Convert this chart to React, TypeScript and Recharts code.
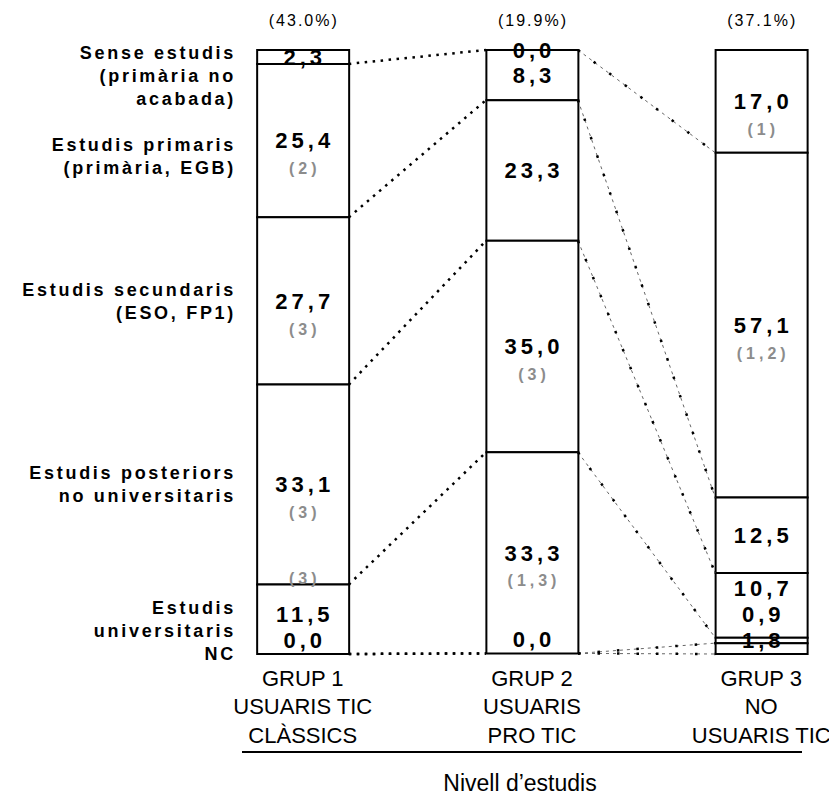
import { ComposedChart, Bar, Line, Scatter, XAxis, YAxis } from 'recharts';

// Groups (x positions on a numeric axis so connectors can reach the bar edges)
const GROUP_X = [1, 2, 3];
const GROUP_NAMES = ['GRUP 1', 'GRUP 2', 'GRUP 3'];
const GROUP_SUBTITLES = [
  ['USUARIS TIC', 'CLÀSSICS'],
  ['USUARIS', 'PRO TIC'],
  ['NO', 'USUARIS TIC'],
];
const GROUP_SHARES = ['(43.0%)', '(19.9%)', '(37.1%)'];

// Study levels, top of the bar first
const LEVEL_KEYS = ['sense', 'primaris', 'secundaris', 'posteriors', 'universitaris', 'nc'];
const LEVEL_LABELS = [
  ['Sense estudis', '(primària no', 'acabada)'],
  ['Estudis primaris', '(primària, EGB)'],
  ['Estudis secundaris', '(ESO, FP1)'],
  ['Estudis posteriors', 'no universitaris'],
  ['Estudis', 'universitaris'],
  ['NC'],
];

const GRUP1_VALUES = [2.3, 25.4, 27.7, 33.1, 11.5, 0.0];
const GRUP2_VALUES = [0.0, 8.3, 23.3, 35.0, 33.3, 0.0];
const GRUP3_VALUES = [17.0, 57.1, 12.5, 10.7, 0.9, 1.8];

const GRUP1_NOTES = ['', '(2)', '(3)', '(3)', '(3)', ''];
const GRUP2_NOTES = ['', '', '', '(3)', '(1,3)', ''];
const GRUP3_NOTES = ['(1)', '(1,2)', '', '', '', ''];

const AXIS_TITLE = 'Nivell d’estudis';

const GROUP_VALUES = [GRUP1_VALUES, GRUP2_VALUES, GRUP3_VALUES];
const GROUP_NOTES = [GRUP1_NOTES, GRUP2_NOTES, GRUP3_NOTES];

// layout
const W = 829;
const H = 791;
const MARGIN = { top: 0, right: 7, bottom: 35, left: 0 };
const TOP_AXIS_H = 42;
const Y_AXIS_W = 226;
const X_AXIS_H = 110;
const X_DOMAIN: [number, number] = [0.7, 3.3];
const PLOT_TOP = MARGIN.top + TOP_AXIS_H;
const PLOT_W = W - Y_AXIS_W - MARGIN.left - MARGIN.right;
const PLOT_H = H - PLOT_TOP - X_AXIS_H - MARGIN.bottom;
const PX_PER_UNIT = PLOT_W / (X_DOMAIN[1] - X_DOMAIN[0]);
const PX_PER_PCT = PLOT_H / 100;
const BAR_SIZE = 92;
const BAR_HALF = BAR_SIZE / 2 / PX_PER_UNIT;

const FONT = '"Liberation Sans", Arial, Helvetica, sans-serif';
const LABEL_GAP = 26 / PX_PER_PCT;
const LABEL_INSET = 14 / PX_PER_PCT;
const NOTE_GAP = 28 / PX_PER_PCT;
const NOTE_GAP_ABOVE = 36 / PX_PER_PCT;
const LEVEL_LINE_H = 23;
const LEVEL_LINE_PCT = LEVEL_LINE_H / PX_PER_PCT;

const cumulative = (vals: number[]) =>
  vals.reduce((acc: number[], v) => [...acc, acc[acc.length - 1] + v], [0]);

const CUMS = GROUP_VALUES.map(cumulative);

const rows = GROUP_X.map((x, g) => {
  const r: Record<string, number> = { x };
  LEVEL_KEYS.forEach((k, i) => (r[k] = GROUP_VALUES[g][i]));
  return r;
});

// value labels pushed up when segments are too thin
const labelPoints: any[] = [];
GROUP_X.forEach((gx, g) => {
  const cum = CUMS[g];
  const bottom = cum[cum.length - 1];
  const ys: number[] = [];
  let prev = Infinity;
  for (let i = LEVEL_KEYS.length - 1; i >= 0; i--) {
    const center = (cum[i] + cum[i + 1]) / 2;
    const y = Math.max(0, Math.min(center, prev - LABEL_GAP, bottom - LABEL_INSET));
    ys[i] = y;
    prev = y;
  }
  ys.forEach((y, i) => {
    labelPoints.push({ x: gx, y, text: GROUP_VALUES[g][i].toFixed(1).replace('.', ','), kind: 'value' });
    const note = GROUP_NOTES[g][i];
    if (note) {
      let ny = y + NOTE_GAP;
      if (i < ys.length - 1 && ny > ys[i + 1] - LABEL_GAP * 0.8) ny = y - NOTE_GAP_ABOVE;
      labelPoints.push({ x: gx, y: ny, text: note, kind: 'note' });
    }
  });
});

// dotted connectors between matching boundaries of neighbouring bars
const connectors: any[] = [];
for (let g = 0; g < GROUP_X.length - 1; g++) {
  for (let k = 1; k <= LEVEL_KEYS.length; k++) {
    connectors.push({
      id: `${g}-${k}`,
      gap: g,
      points: [
        { x: GROUP_X[g] + BAR_HALF, y: CUMS[g][k] },
        { x: GROUP_X[g + 1] - BAR_HALF, y: CUMS[g + 1][k] },
      ],
    });
  }
}

// left labels: first-line position of each block, next to the first bar's segments
const LEVEL_TICKS: number[] = [];
{
  let prevLast = -Infinity;
  LEVEL_LABELS.forEach((lines, i) => {
    const span = (lines.length - 1) * LEVEL_LINE_PCT;
    const center = (CUMS[0][i] + CUMS[0][i + 1]) / 2;
    let first = Math.max(center - span / 2, 0.5, prevLast + 2 * LEVEL_LINE_PCT);
    if (first + span > 100) first = 100 - span;
    LEVEL_TICKS.push(first);
    prevLast = first + span;
  });
}

const renderLabel = (props: any) => {
  const { cx, cy, payload } = props;
  const note = payload.kind === 'note';
  return (
    <text
      x={cx + 2}
      y={cy}
      dy="0.35em"
      textAnchor="middle"
      fontFamily={FONT}
      fontWeight="bold"
      fontSize={note ? 16 : 22}
      letterSpacing={4}
      fill={note ? '#8c8c8c' : '#000'}
    >
      {payload.text}
    </text>
  );
};

const LevelTick = (props: any) => {
  const { x, y, index } = props;
  const lines = LEVEL_LABELS[index] || [];
  return (
    <g>
      {lines.map((t, i) => (
        <text
          key={i}
          x={x + 10}
          y={y + i * LEVEL_LINE_H}
          dy="0.35em"
          textAnchor="end"
          fontFamily={FONT}
          fontWeight="bold"
          fontSize={18}
          letterSpacing={2.7}
          fill="#000"
        >
          {t}
        </text>
      ))}
    </g>
  );
};

const GroupTick = (props: any) => {
  const { x, y, index } = props;
  const lines = [GROUP_NAMES[index], ...(GROUP_SUBTITLES[index] || [])];
  return (
    <g>
      {lines.map((t, i) => (
        <text
          key={i}
          x={x}
          y={y + 16 + i * 28.5}
          dy="0.35em"
          textAnchor="middle"
          fontFamily={FONT}
          fontSize={22}
          fill="#000"
        >
          {t}
        </text>
      ))}
    </g>
  );
};

const ShareTick = (props: any) => {
  const { x, y, index } = props;
  return (
    <text x={x + 1} y={y - 22} dy="0.35em" textAnchor="middle" fontFamily={FONT} fontSize={16} letterSpacing={2} fill="#000">
      {GROUP_SHARES[index]}
    </text>
  );
};

const AxisTitle = (props: any) => {
  const vb = props.viewBox || { x: Y_AXIS_W, y: PLOT_TOP + PLOT_H, width: PLOT_W };
  return (
    <g>
      <line x1={vb.x + 8} x2={vb.x + vb.width - 28} y1={vb.y + 98} y2={vb.y + 98} stroke="#000" strokeWidth={2} />
      <text x={vb.x + vb.width / 2 - 12} y={vb.y + 129} dy="0.35em" textAnchor="middle" fontFamily={FONT} fontSize={23} fill="#000">
        {AXIS_TITLE}
      </text>
    </g>
  );
};

const lineProps = {
  dataKey: 'y',
  xAxisId: 'marks',
  dot: false,
  activeDot: false,
  isAnimationActive: false,
  legendType: 'none' as const,
};

export default function App() {
  return (
    <ComposedChart width={W} height={H} data={rows} margin={MARGIN}>
      <XAxis
        xAxisId="top"
        orientation="top"
        dataKey="x"
        type="number"
        domain={X_DOMAIN}
        ticks={GROUP_X}
        height={TOP_AXIS_H}
        axisLine={false}
        tickLine={false}
        tick={<ShareTick />}
        interval={0}
      />
      <XAxis
        dataKey="x"
        type="number"
        domain={X_DOMAIN}
        ticks={GROUP_X}
        height={X_AXIS_H}
        axisLine={false}
        tickLine={false}
        tick={<GroupTick />}
        interval={0}
        label={{ content: <AxisTitle /> }}
      />
      <XAxis xAxisId="marks" dataKey="x" type="number" domain={X_DOMAIN} hide />
      <YAxis
        type="number"
        domain={[0, 100]}
        reversed
        width={Y_AXIS_W}
        ticks={LEVEL_TICKS}
        interval={0}
        axisLine={false}
        tickLine={false}
        tick={<LevelTick />}
      />
      {LEVEL_KEYS.map((k) => (
        <Bar
          key={k}
          dataKey={k}
          stackId="a"
          barSize={BAR_SIZE}
          fill="#fff"
          stroke="#000"
          strokeWidth={2}
          isAnimationActive={false}
          legendType="none"
        />
      ))}
      {connectors.map((c) =>
        c.gap === 0 ? (
          <Line key={c.id} data={c.points} {...lineProps} stroke="#000" strokeWidth={2.5} strokeDasharray="2.5 5.5" />
        ) : (
          <Line key={c.id} data={c.points} {...lineProps} stroke="#555" strokeWidth={0.9} strokeDasharray="3 4" />
        )
      )}
      {connectors
        .filter((c) => c.gap > 0)
        .map((c) => (
          <Line key={`dots-${c.id}`} data={c.points} {...lineProps} stroke="#000" strokeWidth={2.5} strokeDasharray="2.5 17" />
        ))}
      <Scatter
        data={labelPoints}
        dataKey="y"
        xAxisId="marks"
        shape={renderLabel}
        isAnimationActive={false}
        legendType="none"
      />
    </ComposedChart>
  );
}
